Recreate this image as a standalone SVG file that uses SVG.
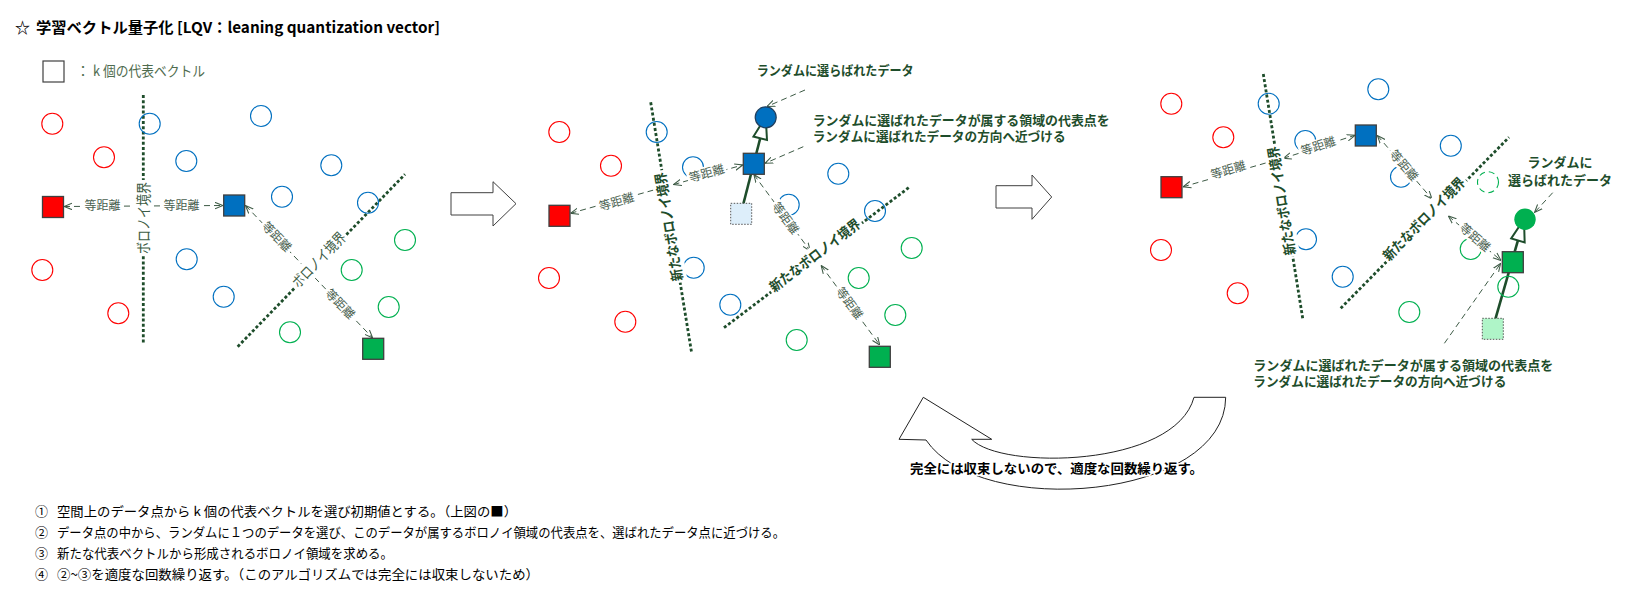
<svg xmlns="http://www.w3.org/2000/svg" width="1638" height="599" viewBox="0 0 1638 599">
<defs>
<style>
text{font-family:"Noto Sans CJK JP","Liberation Sans",sans-serif}
.c{fill:none;stroke-width:1.1}
.r{stroke:#ff0000}.b{stroke:#0070c0}.g{stroke:#00b050}
.sq{stroke:#3f3f3f;stroke-width:1.3}
.bd{fill:none;stroke:#1e4d2b;stroke-width:2.8;stroke-dasharray:3 2.2}
.dl{fill:none;stroke:#3d5a45;stroke-width:1;stroke-dasharray:6 4}
.eq{font-size:12px;fill:#4a5f50}
.vb{font-size:15px;fill:#3d5c45}
.nb{font-size:14px;font-weight:bold;fill:#1e4d2b}
.note{font-size:13px;font-weight:bold;fill:#1e4d2b}
.list{font-size:13px;fill:#000}
.bg{fill:#fff}
.blk{fill:#fff;stroke:#404040;stroke-width:1}
.mv{fill:none;stroke:#1e4d2b;stroke-width:2.6}
</style>
<marker id="ah" viewBox="0 0 10 10" refX="10" refY="5" markerWidth="8" markerHeight="8" markerUnits="userSpaceOnUse" orient="auto-start-reverse"><path d="M0,1 L10,5 L0,9" fill="none" stroke="#3d5a45" stroke-width="1.3"/></marker>
<marker id="tri" viewBox="-24 -9 26 18" refX="0" refY="0" markerWidth="26" markerHeight="18" markerUnits="userSpaceOnUse" orient="auto"><path d="M0,0 L-22,-7 L-22,7 Z" fill="#fff" stroke="#1e4d2b" stroke-width="2"/></marker>
</defs>
<rect width="1638" height="599" fill="#fff"/>

<g id="title">
<text x="15" y="33" style="font-size:15px;font-weight:bold">☆</text>
<text x="36" y="33" style="font-size:15px;font-weight:bold" textLength="404" lengthAdjust="spacingAndGlyphs">学習ベクトル量子化 [LQV：leaning quantization vector]</text>
</g>
<g id="legend">
<rect x="43" y="61" width="21" height="21" fill="#fff" stroke="#404040" stroke-width="1.2"/>
<text x="76" y="76" style="font-size:14px;fill:#4e6b4e">：</text>
<text x="93" y="76" style="font-size:14px;fill:#4e6b4e" textLength="112" lengthAdjust="spacingAndGlyphs">k 個の代表ベクトル</text>
</g>

<!-- connectors -->
<g id="connectors">
<!-- panel 1 -->
<line class="bd" x1="143.3" y1="95" x2="143.3" y2="343.3"/>
<line class="bd" x1="237.7" y1="346.7" x2="405" y2="174.3"/>
<line class="dl" x1="64" y1="206.5" x2="223" y2="205.5" marker-start="url(#ah)" marker-end="url(#ah)"/>
<line class="dl" x1="245.5" y1="205.5" x2="372.7" y2="338" marker-start="url(#ah)" marker-end="url(#ah)"/>
<!-- panel 2 -->
<line class="bd" x1="650.7" y1="102.3" x2="691.7" y2="353.3"/>
<line class="bd" x1="724" y1="327.7" x2="910" y2="186.7"/>
<line class="dl" x1="570.5" y1="213.3" x2="666" y2="186.6" marker-start="url(#ah)"/>
<line class="dl" x1="673.5" y1="184.6" x2="742.7" y2="165" marker-start="url(#ah)" marker-end="url(#ah)"/>
<line class="dl" x1="753.8" y1="174.5" x2="810.3" y2="251" marker-start="url(#ah)" marker-end="url(#ah)"/>
<line class="dl" x1="821.1" y1="265.5" x2="879.8" y2="345" marker-start="url(#ah)" marker-end="url(#ah)"/>
<line class="dl" x1="805" y1="90" x2="767" y2="106.5" marker-end="url(#ah)"/>
<line class="dl" x1="803.3" y1="146.7" x2="765" y2="163.3" marker-end="url(#ah)"/>
<line class="mv" x1="741" y1="213" x2="765.7" y2="117" marker-end="url(#tri)"/>
<!-- panel 3 -->
<line class="bd" x1="1263.3" y1="74" x2="1302.7" y2="318.3"/>
<line class="bd" x1="1340.7" y1="308.3" x2="1509" y2="137.3"/>
<line class="dl" x1="1183" y1="186.8" x2="1272" y2="161.2" marker-start="url(#ah)"/>
<line class="dl" x1="1283.3" y1="158.3" x2="1355" y2="135.3" marker-start="url(#ah)" marker-end="url(#ah)"/>
<line class="dl" x1="1377.4" y1="135.5" x2="1432" y2="199" marker-start="url(#ah)" marker-end="url(#ah)"/>
<line class="dl" x1="1448.3" y1="216" x2="1501" y2="260.5" marker-start="url(#ah)" marker-end="url(#ah)"/>
<line class="dl" x1="1444.4" y1="343.3" x2="1500.6" y2="263.5" marker-end="url(#ah)"/>
<line class="dl" x1="1552.7" y1="192.7" x2="1534.5" y2="212.5" marker-end="url(#ah)"/>
<line class="mv" x1="1492.7" y1="328.3" x2="1524" y2="219.3" marker-end="url(#tri)"/>
</g>

<!-- panel 1 nodes -->
<g id="p1-r1"><circle class="c r" cx="52.3" cy="123.7" r="10.5"/></g>
<g id="p1-r2"><circle class="c r" cx="104" cy="157.3" r="10.5"/></g>
<g id="p1-r3"><circle class="c r" cx="42.3" cy="270" r="10.5"/></g>
<g id="p1-r4"><circle class="c r" cx="118.3" cy="313.3" r="10.5"/></g>
<g id="p1-b1"><circle class="c b" cx="149.7" cy="123.7" r="10.5"/></g>
<g id="p1-b2"><circle class="c b" cx="261" cy="116" r="10.5"/></g>
<g id="p1-b3"><circle class="c b" cx="186.3" cy="161" r="10.5"/></g>
<g id="p1-b4"><circle class="c b" cx="331.3" cy="165.3" r="10.5"/></g>
<g id="p1-b5"><circle class="c b" cx="282" cy="196.7" r="10.5"/></g>
<g id="p1-b6"><circle class="c b" cx="368" cy="202.7" r="10.5"/></g>
<g id="p1-b7"><circle class="c b" cx="186.7" cy="259.3" r="10.5"/></g>
<g id="p1-b8"><circle class="c b" cx="223.7" cy="296.7" r="10.5"/></g>
<g id="p1-g1"><circle class="c g" cx="405" cy="240" r="10.5"/></g>
<g id="p1-g2"><circle class="c g" cx="351.7" cy="270" r="10.5"/></g>
<g id="p1-g3"><circle class="c g" cx="388.7" cy="307" r="10.5"/></g>
<g id="p1-g4"><circle class="c g" cx="290" cy="332.3" r="10.5"/></g>
<g id="p1-sr"><rect class="sq" x="42.5" y="196.5" width="21" height="21" fill="#ff0000"/></g>
<g id="p1-sb"><rect class="sq" x="223.7" y="195" width="21" height="21" fill="#0070c0"/></g>
<g id="p1-sg"><rect class="sq" x="362.7" y="338.3" width="21" height="21" fill="#00b050"/></g>

<!-- panel 2 nodes -->
<g id="p2-r1"><circle class="c r" cx="559.3" cy="132" r="10.5"/></g>
<g id="p2-r2"><circle class="c r" cx="611" cy="165.7" r="10.5"/></g>
<g id="p2-r3"><circle class="c r" cx="549" cy="278" r="10.5"/></g>
<g id="p2-r4"><circle class="c r" cx="625.3" cy="321.7" r="10.5"/></g>
<g id="p2-b1"><circle class="c b" cx="656.7" cy="132" r="10.5"/></g>
<g id="p2-b2"><circle class="c b" cx="693" cy="167.3" r="10.5"/></g>
<g id="p2-b3"><circle class="c b" cx="838.3" cy="173.7" r="10.5"/></g>
<g id="p2-b4"><circle class="c b" cx="788.7" cy="204.7" r="10.5"/></g>
<g id="p2-b5"><circle class="c b" cx="875" cy="211" r="10.5"/></g>
<g id="p2-b6"><circle class="c b" cx="693.7" cy="267.7" r="10.5"/></g>
<g id="p2-b7"><circle class="c b" cx="730.3" cy="304.7" r="10.5"/></g>
<g id="p2-g1"><circle class="c g" cx="911.7" cy="248" r="10.5"/></g>
<g id="p2-g2"><circle class="c g" cx="858.7" cy="278" r="10.5"/></g>
<g id="p2-g3"><circle class="c g" cx="895.3" cy="315" r="10.5"/></g>
<g id="p2-g4"><circle class="c g" cx="796.7" cy="340" r="10.5"/></g>
<g id="p2-sel"><circle cx="765.7" cy="117.3" r="10.5" fill="#0070c0" stroke="#1f3f5f" stroke-width="1.2"/></g>
<g id="p2-sr"><rect class="sq" x="549" y="205.3" width="21" height="21" fill="#ff0000"/></g>
<g id="p2-sbo"><rect x="730.7" y="203.3" width="21" height="21" fill="#ddeefa" stroke="#555" stroke-width="1" stroke-dasharray="1.5 1.5"/></g>
<g id="p2-sb"><rect class="sq" x="743.3" y="153.3" width="21" height="21" fill="#0070c0"/></g>
<g id="p2-sg"><rect class="sq" x="869.3" y="346.3" width="21" height="21" fill="#00b050"/></g>

<!-- panel 3 nodes -->
<g id="p3-r1"><circle class="c r" cx="1171.3" cy="103.7" r="10.5"/></g>
<g id="p3-r2"><circle class="c r" cx="1223.3" cy="137.3" r="10.5"/></g>
<g id="p3-r3"><circle class="c r" cx="1161" cy="250" r="10.5"/></g>
<g id="p3-r4"><circle class="c r" cx="1237.7" cy="293.3" r="10.5"/></g>
<g id="p3-b1"><circle class="c b" cx="1268.7" cy="103.7" r="10.5"/></g>
<g id="p3-b2"><circle class="c b" cx="1378.3" cy="89.3" r="10.5"/></g>
<g id="p3-b3"><circle class="c b" cx="1305.3" cy="141" r="10.5"/></g>
<g id="p3-b4"><circle class="c b" cx="1401" cy="176.7" r="10.5"/></g>
<g id="p3-b5"><circle class="c b" cx="1450.8" cy="145.7" r="10.5"/></g>
<g id="p3-b6"><circle class="c b" cx="1306" cy="239.3" r="10.5"/></g>
<g id="p3-b7"><circle class="c b" cx="1342.7" cy="276.7" r="10.5"/></g>
<g id="p3-g1"><circle class="c g" cx="1409.3" cy="312" r="10.5"/></g>
<g id="p3-g2"><circle class="c g" cx="1470.7" cy="249" r="10.5"/></g>
<g id="p3-g3"><circle class="c g" cx="1508.3" cy="286.7" r="10.5"/></g>
<g id="p3-g4"><circle class="c g" cx="1488" cy="182.2" r="10.5" stroke-dasharray="6 4"/></g>
<g id="p3-sel"><circle cx="1525" cy="219.3" r="10.7" fill="#00b050"/></g>
<g id="p3-sr"><rect class="sq" x="1161" y="176.7" width="21" height="21" fill="#ff0000"/></g>
<g id="p3-sb"><rect class="sq" x="1355.3" y="125" width="21" height="21" fill="#0070c0"/></g>
<g id="p3-sgo"><rect x="1482.3" y="318.3" width="21" height="21" fill="#aff5c8" stroke="#555" stroke-width="1" stroke-dasharray="1.5 1.5"/></g>
<g id="p3-sg"><rect class="sq" x="1502.3" y="251.7" width="21" height="21" fill="#00b050"/></g>

<!-- labels -->
<g id="labels">
<g transform="translate(102.5,206)"><rect class="bg" x="-20" y="-7" width="40" height="14"/><text class="eq" x="0" y="4.2" text-anchor="middle">等距離</text></g>
<g transform="translate(181.5,205.5)"><rect class="bg" x="-20" y="-7" width="40" height="14"/><text class="eq" x="0" y="4.2" text-anchor="middle">等距離</text></g>
<g transform="translate(276.7,236.7) rotate(46)"><rect class="bg" x="-20" y="-7" width="40" height="14"/><text class="eq" x="0" y="4.2" text-anchor="middle">等距離</text></g>
<g transform="translate(340,304) rotate(46)"><rect class="bg" x="-20" y="-7" width="40" height="14"/><text class="eq" x="0" y="4.2" text-anchor="middle">等距離</text></g>
<g transform="translate(143.3,218) rotate(-90)"><rect class="bg" x="-38" y="-10" width="76" height="20"/><text class="vb" x="0" y="5.2" text-anchor="middle" textLength="72" lengthAdjust="spacingAndGlyphs">ボロノイ境界</text></g>
<g transform="translate(319,260) rotate(-45.9)"><rect class="bg" x="-37" y="-10" width="74" height="20"/><text class="vb" x="0" y="5.2" text-anchor="middle" textLength="70" lengthAdjust="spacingAndGlyphs">ボロノイ境界</text></g>

<g transform="translate(616.7,201.7) rotate(-15.8)"><rect class="bg" x="-20" y="-7" width="40" height="14"/><text class="eq" x="0" y="4.2" text-anchor="middle">等距離</text></g>
<g transform="translate(706.7,173.3) rotate(-16)"><rect class="bg" x="-20" y="-7" width="40" height="14"/><text class="eq" x="0" y="4.2" text-anchor="middle">等距離</text></g>
<g transform="translate(785.5,218.3) rotate(53.5)"><rect class="bg" x="-20" y="-7" width="40" height="14"/><text class="eq" x="0" y="4.2" text-anchor="middle">等距離</text></g>
<g transform="translate(849.5,303.3) rotate(53.5)"><rect class="bg" x="-20" y="-7" width="40" height="14"/><text class="eq" x="0" y="4.2" text-anchor="middle">等距離</text></g>
<g transform="translate(669,226.7) rotate(-99.3)"><rect class="bg" x="-57" y="-9.5" width="114" height="19"/><text class="nb" x="0" y="5" text-anchor="middle" textLength="110" lengthAdjust="spacingAndGlyphs">新たなボロノイ境界</text></g>
<g transform="translate(815,255.5) rotate(-37.2)"><rect class="bg" x="-57" y="-9.5" width="114" height="19"/><text class="nb" x="0" y="5" text-anchor="middle" textLength="110" lengthAdjust="spacingAndGlyphs">新たなボロノイ境界</text></g>

<g transform="translate(1228.3,170) rotate(-16.7)"><rect class="bg" x="-20" y="-7" width="40" height="14"/><text class="eq" x="0" y="4.2" text-anchor="middle">等距離</text></g>
<g transform="translate(1318.3,146) rotate(-18)"><rect class="bg" x="-20" y="-7" width="40" height="14"/><text class="eq" x="0" y="4.2" text-anchor="middle">等距離</text></g>
<g transform="translate(1404,165.5) rotate(49.5)"><rect class="bg" x="-20" y="-7" width="40" height="14"/><text class="eq" x="0" y="4.2" text-anchor="middle">等距離</text></g>
<g transform="translate(1475,237.5) rotate(41.5)"><rect class="bg" x="-20" y="-7" width="40" height="14"/><text class="eq" x="0" y="4.2" text-anchor="middle">等距離</text></g>
<g transform="translate(1281.7,200.8) rotate(-99.2)"><rect class="bg" x="-57" y="-9.5" width="114" height="19"/><text class="nb" x="0" y="5" text-anchor="middle" textLength="110" lengthAdjust="spacingAndGlyphs">新たなボロノイ境界</text></g>
<g transform="translate(1424,219) rotate(-45.5)"><rect class="bg" x="-57" y="-9.5" width="114" height="19"/><text class="nb" x="0" y="5" text-anchor="middle" textLength="110" lengthAdjust="spacingAndGlyphs">新たなボロノイ境界</text></g>
</g>

<!-- block arrows -->
<g id="arrow1"><path class="blk" d="M451,192.7 L493,192.7 L493,181.7 L516,203.7 L493,226 L493,215 L451,215 Z"/></g>
<g id="arrow2"><path class="blk" d="M996,185.7 L1032,185.7 L1032,175 L1051.7,197 L1032,219.3 L1032,208 L996,208 Z"/></g>
<g id="cycle"><path fill="#fff" stroke="#222" stroke-width="1" d="M899,439.3 L923.3,397.3 L991.7,439.3 L971.7,439.3 C1000,470 1175,468 1194,397.3 L1225.7,397.3 C1225,500 980,520 926,440 Z"/></g>

<!-- notes -->
<g id="notes">
<text class="note" x="756.7" y="75.2" textLength="157" lengthAdjust="spacingAndGlyphs">ランダムに選らばれたデータ</text>
<text class="note" x="812.7" y="124.5" textLength="297" lengthAdjust="spacingAndGlyphs">ランダムに選ばれたデータが属する領域の代表点を</text>
<text class="note" x="812.7" y="140.5" textLength="253" lengthAdjust="spacingAndGlyphs">ランダムに選ばれたデータの方向へ近づける</text>
<text class="note" x="1560" y="166.8" text-anchor="middle">ランダムに</text>
<text class="note" x="1560" y="184.5" text-anchor="middle">選らばれたデータ</text>
<text class="note" x="1253.3" y="369.5" textLength="300" lengthAdjust="spacingAndGlyphs">ランダムに選ばれたデータが属する領域の代表点を</text>
<text class="note" x="1253.3" y="385.5" textLength="253" lengthAdjust="spacingAndGlyphs">ランダムに選ばれたデータの方向へ近づける</text>
<text x="910" y="472.5" textLength="293" lengthAdjust="spacingAndGlyphs" style="font-size:13px;font-weight:bold;fill:#000;stroke:#fff;stroke-width:3;paint-order:stroke;stroke-linejoin:round">完全には収束しないので、適度な回数繰り返す。</text>
</g>

<g id="steps">
<text class="list" x="35" y="516">①</text>
<text class="list" x="57" y="516" textLength="460" lengthAdjust="spacingAndGlyphs">空間上のデータ点から k 個の代表ベクトルを選び初期値とする。（上図の■）</text>
<text class="list" x="35" y="537">②</text>
<text class="list" x="57" y="537" textLength="728" lengthAdjust="spacingAndGlyphs">データ点の中から、ランダムに１つのデータを選び、このデータが属するボロノイ領域の代表点を、選ばれたデータ点に近づける。</text>
<text class="list" x="35" y="558">③</text>
<text class="list" x="57" y="558" textLength="336" lengthAdjust="spacingAndGlyphs">新たな代表ベクトルから形成されるボロノイ領域を求める。</text>
<text class="list" x="35" y="579">④</text>
<text class="list" x="57" y="579" textLength="482" lengthAdjust="spacingAndGlyphs">②~③を適度な回数繰り返す。（このアルゴリズムでは完全には収束しないため）</text>
</g>
</svg>
